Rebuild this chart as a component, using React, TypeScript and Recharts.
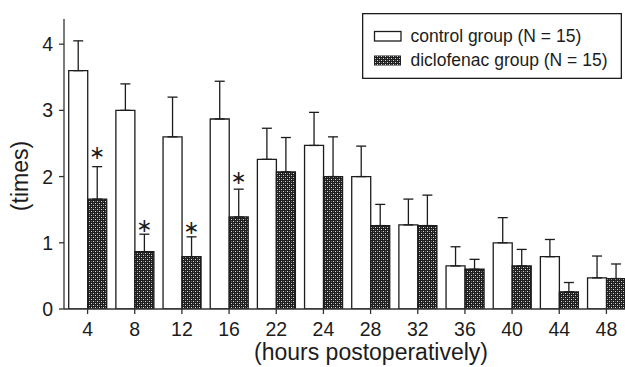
import React from "react";
import { BarChart, Bar, XAxis, YAxis, ErrorBar, LabelList } from "recharts";

const hours = ["4", "8", "12", "16", "22", "24", "28", "32", "36", "40", "44", "48"];
const controlMean = [3.6, 3.0, 2.6, 2.87, 2.26, 2.47, 2.0, 1.27, 0.65, 1.0, 0.79, 0.47];
const controlSd = [0.45, 0.4, 0.6, 0.57, 0.47, 0.5, 0.46, 0.39, 0.29, 0.38, 0.26, 0.33];
const diclofenacMean = [1.66, 0.865, 0.79, 1.39, 2.07, 2.0, 1.26, 1.26, 0.6, 0.65, 0.26, 0.46];
const diclofenacSd = [0.49, 0.265, 0.3, 0.42, 0.52, 0.6, 0.32, 0.46, 0.15, 0.25, 0.14, 0.22];
const asteriskAt: (number | null)[] = [2.37, 1.27, 1.24, 2.0, null, null, null, null, null, null, null, null];
const yTicks = [0, 1, 2, 3, 4];

const data = hours.map((h, i) => ({
  hour: h,
  control: controlMean[i],
  controlErr: [0, controlSd[i]],
  diclofenac: diclofenacMean[i],
  diclofenacErr: [0, diclofenacSd[i]],
}));

const FONT = '"Liberation Sans", Arial, Helvetica, sans-serif';
const INK = "#1c1c1c";

const PatternDefs = ({ id }: { id: string }) => (
  <defs>
    <pattern id={id} patternUnits="userSpaceOnUse" width="4" height="4">
      <rect x="0" y="0" width="4" height="4" fill="#1e1e1e" />
      <rect x="1" y="1" width="1" height="1" fill="#d8d8d8" />
      <rect x="3" y="3" width="1" height="1" fill="#d8d8d8" />
      <rect x="3" y="1" width="1" height="1" fill="#6a6a6a" />
      <rect x="1" y="3" width="1" height="1" fill="#6a6a6a" />
    </pattern>
  </defs>
);

const AsteriskLabel = (props: any) => {
  const vb = props.viewBox || props;
  const x = vb.x ?? props.x;
  const y = vb.y ?? props.y;
  const width = vb.width ?? props.width;
  const height = vb.height ?? props.height;
  const index = props.index;
  const a = asteriskAt[index];
  if (a == null || !height) return null;
  const v = diclofenacMean[index];
  const ppu = height / v;
  const cy = y + height - a * ppu;
  return (
    <text
      x={x + width / 2}
      y={cy}
      textAnchor="middle"
      dominantBaseline="central"
      fontFamily='"DejaVu Sans", sans-serif'
      fontSize={19}
      fill={INK}
    >
      ∗
    </text>
  );
};

const Legend2 = () => (
  <div style={{ position: "absolute", left: 362, top: 13, width: 260, height: 66 }}>
    <svg width={260} height={66}>
      <PatternDefs id="legPat" />
      <rect x={0.65} y={0.65} width={258.7} height={64.7} fill="#fff" stroke={INK} strokeWidth={1.3} />
      <rect x={12.5} y={18.5} width={26.5} height={9.5} fill="#fff" stroke={INK} strokeWidth={1.3} />
      <rect x={12} y={42.5} width={27} height={10} fill="url(#legPat)" />
      <text x={48.5} y={28.7} fontFamily={FONT} fontSize={17.5} fill={INK}>
        control group (N = 15)
      </text>
      <text x={48.5} y={52.8} fontFamily={FONT} fontSize={17.5} fill={INK}>
        diclofenac group (N = 15)
      </text>
    </svg>
  </div>
);

export default function App() {
  return (
    <div
      style={{
        position: "absolute",
        left: 0,
        top: 0,
        width: 625,
        height: 367,
        overflow: "hidden",
        background: "#fff",
      }}
    >
      <svg width={0} height={0} style={{ position: "absolute" }}>
        <PatternDefs id="dicPat" />
      </svg>
      <BarChart
        width={640}
        height={367}
        data={data}
        margin={{ top: 19, right: 10, bottom: 0, left: 0 }}
        barCategoryGap="10%"
        barGap={0}
      >
        <XAxis
          dataKey="hour"
          axisLine={{ stroke: "#333", strokeWidth: 1.3 }}
          tickLine={{ stroke: "#333", strokeWidth: 1.3 }}
          tickSize={5}
          tickMargin={8}
          tick={{ fontFamily: FONT, fontSize: 19.5, fill: INK }}
          interval={0}
          height={58}
        />
        <YAxis
          domain={[0, 4.38]}
          ticks={yTicks}
          width={64}
          axisLine={{ stroke: "#333", strokeWidth: 1.3 }}
          tickLine={{ stroke: "#333", strokeWidth: 1.3 }}
          tickSize={5}
          tickMargin={6}
          tick={{ fontFamily: FONT, fontSize: 19.5, fill: INK }}
          allowDataOverflow
        />
        <Bar dataKey="control" fill="#fff" stroke={INK} strokeWidth={1.3} isAnimationActive={false}>
          <ErrorBar dataKey="controlErr" width={5} stroke={INK} strokeWidth={1.3} />
        </Bar>
        <Bar dataKey="diclofenac" fill="url(#dicPat)" stroke={INK} strokeWidth={1.3} isAnimationActive={false}>
          <ErrorBar dataKey="diclofenacErr" width={5} stroke={INK} strokeWidth={1.3} />
          <LabelList dataKey="diclofenac" content={AsteriskLabel} />
        </Bar>
      </BarChart>
      <svg width={625} height={367} style={{ position: "absolute", left: 0, top: 0, pointerEvents: "none" }}>
        <text x={371} y={360} textAnchor="middle" fontFamily={FONT} fontSize={23} fill={INK}>
          (hours postoperatively)
        </text>
        <text
          x={28}
          y={176}
          textAnchor="middle"
          fontFamily={FONT}
          fontSize={23}
          fill={INK}
          transform="rotate(-90, 28, 176)"
        >
          (times)
        </text>
      </svg>
      <Legend2 />
    </div>
  );
}
